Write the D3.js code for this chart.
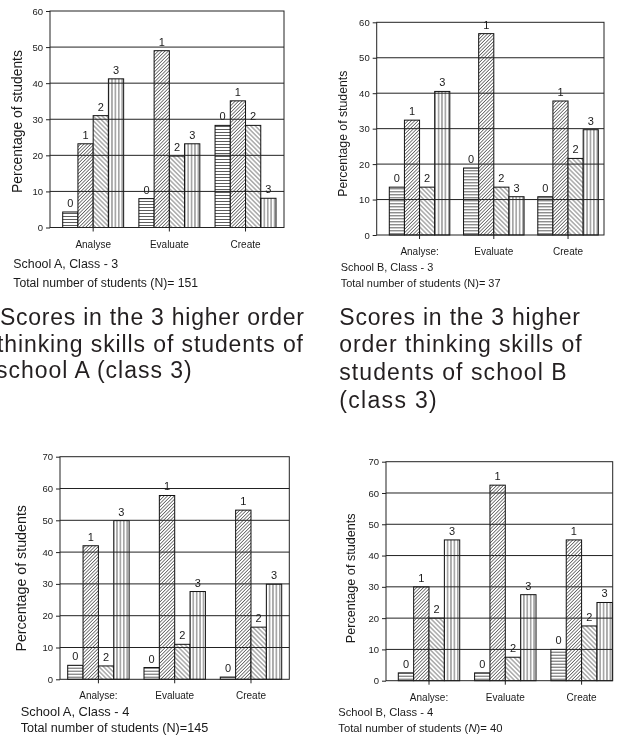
<!DOCTYPE html>
<html>
<head>
<meta charset="utf-8">
<script src="https://cdn.jsdelivr.net/npm/d3@7"></script>
<style>
  html, body { margin: 0; padding: 0; background: #fff; }
  svg { display: block; font-family: "Liberation Sans", Arial, Helvetica, sans-serif; will-change: transform; }
</style>
</head>
<body>
<div id="chart"></div>
<script>
// Skills on the x axis and the four score levels
const skills = ["Analyse", "Evaluate", "Create"];
const skillLabelsA3 = ["Analyse", "Evaluate", "Create"];
const skillLabels = ["Analyse:", "Evaluate", "Create"];
const scores = ["0", "1", "2", "3"];

// Percentage of students with score 0..3, one row per skill
const schoolA3 = [[4.3, 23.2, 31, 41.2], [8, 49, 19.8, 23.2], [28.3, 35.1, 28.3, 8.1]];
const schoolB3 = [[13.5, 32.4, 13.5, 40.5], [18.9, 56.8, 13.5, 10.8], [10.8, 37.8, 21.6, 29.7]];
const schoolA4 = [[4.4, 42, 4.2, 49.9], [3.7, 57.8, 11, 27.6], [0.7, 53.2, 16.4, 29.9]];
const schoolB4 = [[2.5, 30, 20, 45], [2.5, 62.5, 7.5, 27.5], [10, 45, 17.5, 25]];

// y axis ticks
const ticks60 = [0, 10, 20, 30, 40, 50, 60];
const ticks70 = [0, 10, 20, 30, 40, 50, 60, 70];

// chart captions
const captionA3 = ["School A, Class - 3", "Total number of students (N)= 151"];
const captionB3 = ["School B, Class - 3", "Total number of students (N)= 37"];
const captionA4 = ["School A, Class - 4", "Total number of students (N)=145"];
const captionB4 = ["School B, Class - 4", "Total number of students (N)= 40"];

// figure captions below the top charts
const figTextA3 = ["Scores in the 3 higher order", "thinking skills of students of", "school A (class 3)"];
const figTextB3 = ["Scores in the 3 higher", "order thinking skills of", "students of school B", "(class 3)"];

const width = 621, height = 737;
const ink = "#1a1a1a";

const svg = d3.select("#chart").append("svg")
    .attr("width", width)
    .attr("height", height);

svg.append("rect").attr("width", width).attr("height", height).attr("fill", "#fff");

// Hatch patterns for the score levels
const defs = svg.append("defs");
function hatch(id, spacing, angle, sw) {
    const pat = defs.append("pattern")
        .attr("id", id)
        .attr("patternUnits", "userSpaceOnUse")
        .attr("width", spacing)
        .attr("height", 10)
        .attr("patternTransform", `rotate(${angle})`);
    pat.append("rect").attr("width", spacing).attr("height", 10).attr("fill", "#fff");
    pat.append("line")
        .attr("x1", spacing / 2).attr("x2", spacing / 2)
        .attr("y1", -1).attr("y2", 11)
        .attr("stroke", "#333")
        .attr("stroke-width", sw);
}
hatch("hatch0", 3, 90, 0.8);    // horizontal lines
hatch("hatch1", 2.4, 45, 0.7);  // "/" lines
hatch("hatch2", 3.2, -45, 0.7); // "\" lines
hatch("hatch3", 3.4, 0, 0.8);   // vertical lines

// shrink or grow a text's font so its width matches the reference
function fitWidth(sel, target, base) {
    const natural = sel.node().getComputedTextLength();
    sel.attr("font-size", base * target / natural);
}

// Panel layout
const panels = [
    { values: schoolA3, labels: skillLabelsA3, ticks: ticks60, caption: captionA3, italicN: false,
      left: 50, top: 11, w: 234, h: 216.5, padL: 12.7, padR: 8, inner: 0.2,
      titleX: 17.5, titleY: 121.5, titleLen: 143,
      capX: 13.3, capY: [268, 286.5], capLen: [105, 185] },
    { values: schoolB3, labels: skillLabels, ticks: ticks60, caption: captionB3, italicN: false,
      left: 376.7, top: 22.3, w: 227.3, h: 212.7, padL: 12.6, padR: 5.7, inner: 0.185,
      titleX: 343.3, titleY: 133.7, titleLen: 126,
      capX: 340.7, capY: [270.5, 287], capLen: [92.7, 160] },
    { values: schoolA4, labels: skillLabels, ticks: ticks70, caption: captionA4, italicN: false,
      left: 60, top: 456.7, w: 229.3, h: 222.6, padL: 7.7, padR: 7.6, inner: 0.195,
      titleX: 21.7, titleY: 578.3, titleLen: 146.7,
      capX: 20.7, capY: [716.3, 731.8], capLen: [108.7, 187.7] },
    { values: schoolB4, labels: skillLabels, ticks: ticks70, caption: captionB4, italicN: true,
      left: 386, top: 461.7, w: 226.7, h: 219, padL: 12.3, padR: 0.4, inner: 0.195,
      titleX: 351, titleY: 578.3, titleLen: 130,
      capX: 338.3, capY: [716.3, 731.8], capLen: [95, 164.3] }
];

panels.forEach(p => {
    const g = svg.append("g").attr("transform", `translate(${p.left},${p.top})`);

    const y = d3.scaleLinear()
        .domain([0, p.ticks[p.ticks.length - 1]])
        .range([p.h, 0]);

    const x0 = d3.scaleBand()
        .domain(skills)
        .range([p.padL, p.w - p.padR])
        .paddingInner(p.inner);

    const x1 = d3.scaleBand()
        .domain(scores)
        .range([0, x0.bandwidth()]);

    const rows = skills.map((s, i) => ({
        skill: s,
        bars: p.values[i].map((v, j) => ({ score: scores[j], value: v }))
    }));

    const groups = g.selectAll(".group")
        .data(rows)
        .join("g")
        .attr("class", "group")
        .attr("transform", d => `translate(${x0(d.skill)},0)`);

    // Bars
    groups.selectAll("rect")
        .data(d => d.bars)
        .join("rect")
        .attr("x", d => x1(d.score))
        .attr("y", d => y(d.value))
        .attr("width", x1.bandwidth())
        .attr("height", d => y(0) - y(d.value))
        .attr("fill", d => `url(#hatch${d.score})`)
        .attr("stroke", "#111")
        .attr("stroke-width", 1);

    // Score labels above bars
    groups.selectAll("text")
        .data(d => d.bars)
        .join("text")
        .attr("x", d => x1(d.score) + x1.bandwidth() / 2)
        .attr("y", d => y(d.value) - 5)
        .attr("text-anchor", "middle")
        .attr("font-size", 11)
        .attr("fill", ink)
        .text(d => d.score);

    // Grid lines drawn over the bars
    g.append("g")
        .selectAll("line")
        .data(p.ticks.slice(1, -1))
        .join("line")
        .attr("x1", 0)
        .attr("x2", p.w)
        .attr("y1", d => y(d))
        .attr("y2", d => y(d))
        .attr("stroke", "#222")
        .attr("stroke-width", 1);

    // Frame
    g.append("rect")
        .attr("width", p.w)
        .attr("height", p.h)
        .attr("fill", "none")
        .attr("stroke", "#222")
        .attr("stroke-width", 1);

    // Y axis
    const yAxis = g.append("g")
        .call(d3.axisLeft(y).tickValues(p.ticks).tickSize(4).tickPadding(3));
    yAxis.attr("font-family", null);
    yAxis.select(".domain").remove();
    yAxis.selectAll("line").attr("stroke", "#222");
    yAxis.selectAll("text")
        .attr("font-size", 9.5)
        .attr("fill", ink);

    // X axis
    const xAxis = g.append("g")
        .attr("transform", `translate(0,${p.h})`)
        .call(d3.axisBottom(x0).tickSize(4).tickPadding(9)
            .tickFormat((d, i) => p.labels[i]));
    xAxis.attr("font-family", null);
    xAxis.select(".domain").remove();
    xAxis.selectAll("line").attr("stroke", "#222");
    xAxis.selectAll("text")
        .attr("font-size", 10)
        .attr("fill", ink);

    // Y axis title
    const title = svg.append("text")
        .attr("transform", `translate(${p.titleX + 4},${p.titleY}) rotate(-90)`)
        .attr("text-anchor", "middle")
        .attr("font-size", 12)
        .attr("fill", ink)
        .text("Percentage of students");
    fitWidth(title, p.titleLen, 12);

    // Captions under the chart
    p.caption.forEach((line, i) => {
        const t = svg.append("text")
            .attr("x", p.capX)
            .attr("y", p.capY[i])
            .attr("font-size", 12)
            .attr("fill", ink);
        if (p.italicN && line.includes("(N)")) {
            const parts = line.split("(N)");
            t.append("tspan").text(parts[0] + "(");
            t.append("tspan").attr("font-style", "italic").text("N");
            t.append("tspan").text(")" + parts[1]);
        } else {
            t.text(line);
        }
        fitWidth(t, p.capLen[i], 12);
    });
});

// Figure captions
const figA = { x: [0, -3, -4], y: [325, 351.7, 378.3], len: [304, 306, 195.7] };
const figB = { x: [339.3, 339.3, 339.3, 339.3], y: [325, 352.3, 380, 407.5], len: [240.7, 242.4, 227.4, 97.4] };

[[figTextA3, figA], [figTextB3, figB]].forEach(([lines, pos]) => {
    svg.append("g")
        .selectAll("text")
        .data(lines)
        .join("text")
        .attr("x", (d, i) => pos.x[i])
        .attr("y", (d, i) => pos.y[i])
        .attr("font-size", 23)
        .attr("fill", "#231f20")
        .attr("textLength", (d, i) => pos.len[i])
        .attr("lengthAdjust", "spacing")
        .text(d => d);
});
</script>
</body>
</html>
